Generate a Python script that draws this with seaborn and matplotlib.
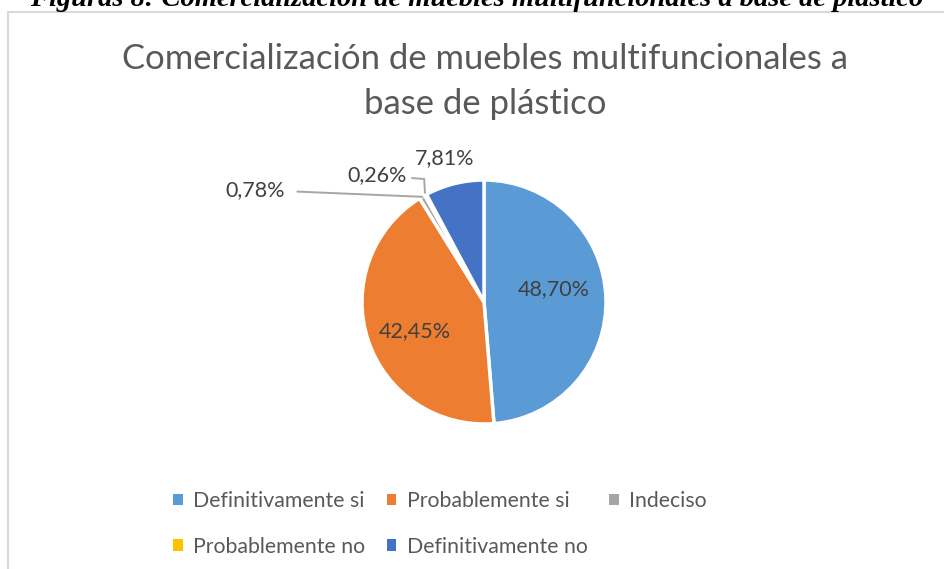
import matplotlib
matplotlib.use("Agg")
import matplotlib.pyplot as plt
import seaborn as sns
from matplotlib.lines import Line2D
from matplotlib.patches import Patch

categories = ["Definitivamente si", "Probablemente si", "Indeciso", "Probablemente no", "Definitivamente no"]
values = [48.70, 42.45, 0.78, 0.26, 7.81]
value_labels = ["48,70%", "42,45%", "0,78%", "0,26%", "7,81%"]
colors = ["#5B9BD5", "#ED7D31", "#A5A5A5", "#FFC000", "#4472C4"]

sns.set_theme(style="white")
plt.rcParams["font.family"] = ["Lato", "DejaVu Sans"]

W, H = 945, 569
fig = plt.figure(figsize=(W / 100, H / 100), dpi=100)
fig.patch.set_facecolor("white")

# caption (cut at the top, as in the source)
fig.text(477 / W, 1 - 6 / H, "Figuras 8: Comercialización de muebles multifuncionales a base de plástico",
         ha="center", va="baseline", fontsize=20.5, fontweight="bold", fontstyle="italic",
         family=["Liberation Serif", "DejaVu Serif"], color="black")

# chart border
fig.add_artist(Line2D([8 / W, 1], [1 - 12 / H, 1 - 12 / H], transform=fig.transFigure, color="#D9D9D9", lw=1.5))
fig.add_artist(Line2D([8 / W, 8 / W], [0, 1 - 12 / H], transform=fig.transFigure, color="#D9D9D9", lw=1.5))

# title
fig.text(485 / W, 1 - 59 / H, "Comercialización de muebles multifuncionales a", ha="center", va="center",
         fontsize=24.9, color="#595959")
fig.text(485 / W, 1 - 104 / H, "base de plástico", ha="center", va="center", fontsize=24.9, color="#595959")

cx, cy, r = 484, 302, 122
ax = fig.add_axes([(cx - r) / W, (H - cy - r) / H, 2 * r / W, 2 * r / H])
wedges, _ = ax.pie(values, colors=colors, startangle=90, counterclock=False,
                   wedgeprops=dict(edgecolor="white", linewidth=2.5))
ax.set_xlim(-1, 1)
ax.set_ylim(-1, 1)
ax.set_aspect("equal")
ax.axis("off")

txt = dict(color="#404040", fontsize=15.5, ha="center", va="center")
ax.text(0.575, 0.107, value_labels[0], **txt)
ax.text(-0.565, -0.238, value_labels[1], **txt)
ax.text(-0.32, 1.18, value_labels[4], **txt)
ax.text(-0.877, 1.04, value_labels[3], **txt)
ax.text(-1.877, 0.918, value_labels[2], **txt)

lc = "#A6A6A6"
ax.plot([-1.53, -0.505], [0.905, 0.862], color=lc, lw=1.4, clip_on=False)
ax.plot([-0.59, -0.49, -0.484], [1.016, 1.008, 0.895], color=lc, lw=1.4, clip_on=False)

# legend filled row by row (matplotlib fills columns first)
order = [0, 3, 1, 4, 2]
handles = [Patch(facecolor=colors[i], edgecolor="none") for i in order]
labels = [categories[i] for i in order]
leg = fig.legend(handles, labels, loc="center", bbox_to_anchor=(440 / W, 1 - 524 / H), ncol=3,
                 frameon=False, fontsize=15.3, labelcolor="#595959", handlelength=0.45, handleheight=0.45,
                 handletextpad=0.5, columnspacing=1.0, labelspacing=1.2)

fig.savefig("out.png", dpi=100, facecolor="white")
